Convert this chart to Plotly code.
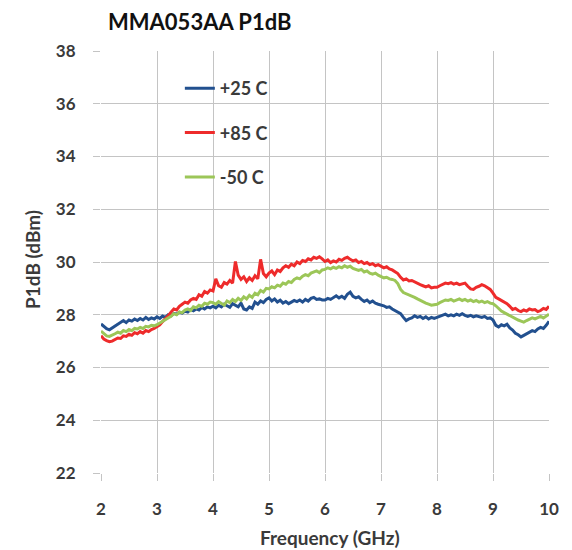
import numpy as np
import plotly.graph_objects as go

# Frequency sweep grid (GHz), 0.05 GHz steps from 2 to 10
freq = np.round(np.arange(2.0, 10.0001, 0.05), 2)

p25 = [
    27.65, 27.55, 27.47, 27.43, 27.50, 27.58, 27.62, 27.72, 27.78, 27.70, 27.80, 27.76, 27.84, 27.78, 27.86, 27.80, 27.90, 27.82, 27.88, 27.84,
    27.92, 27.86, 27.95, 27.90, 28.00, 27.96, 28.05, 28.02, 28.10, 28.06, 28.14, 28.10, 28.20, 28.15, 28.22, 28.18, 28.28, 28.22, 28.30, 28.26,
    28.32, 28.26, 28.36, 28.30, 28.40, 28.34, 28.28, 28.42, 28.36, 28.30, 28.44, 28.22, 28.18, 28.30, 28.24, 28.48, 28.40, 28.52, 28.46, 28.58,
    28.64, 28.52, 28.60, 28.48, 28.55, 28.44, 28.50, 28.42, 28.48, 28.54, 28.50, 28.56, 28.48, 28.58, 28.52, 28.62, 28.66, 28.58, 28.60, 28.56,
    28.56, 28.62, 28.58, 28.66, 28.72, 28.64, 28.70, 28.62, 28.78, 28.86, 28.70, 28.64, 28.68, 28.58, 28.50, 28.56, 28.46, 28.52, 28.44, 28.40,
    28.38, 28.34, 28.28, 28.30, 28.22, 28.16, 28.10, 28.04, 27.90, 27.78, 27.84, 27.88, 27.96, 27.90, 27.94, 27.86, 27.92, 27.84, 27.90, 27.86,
    27.90, 27.94, 27.98, 28.02, 27.96, 28.00, 27.96, 28.02, 27.98, 28.04, 27.98, 27.94, 27.98, 27.92, 27.96, 27.94, 27.90, 27.94, 27.86, 27.88,
    27.80, 27.60, 27.54, 27.62, 27.58, 27.64, 27.50, 27.42, 27.30, 27.24, 27.16, 27.22, 27.28, 27.34, 27.40, 27.36, 27.46, 27.52, 27.48, 27.60,
    27.75,
]

p85 = [
    27.20, 27.08, 27.02, 26.98, 27.00, 27.06, 27.12, 27.10, 27.20, 27.18, 27.26, 27.22, 27.32, 27.28, 27.36, 27.30, 27.40, 27.36, 27.44, 27.48,
    27.56, 27.62, 27.74, 27.84, 27.96, 28.10, 28.22, 28.18, 28.32, 28.40, 28.48, 28.44, 28.56, 28.62, 28.58, 28.76, 28.70, 28.88, 28.82, 28.94,
    28.90, 29.36, 29.10, 29.04, 29.22, 29.16, 29.30, 29.20, 30.02, 29.50, 29.34, 29.44, 29.26, 29.40, 29.30, 29.48, 29.36, 30.10, 29.56, 29.44,
    29.58, 29.66, 29.52, 29.70, 29.64, 29.78, 29.86, 29.80, 29.92, 29.86, 30.00, 29.94, 30.06, 30.02, 30.12, 30.08, 30.18, 30.14, 30.20, 30.12,
    30.02, 30.08, 29.98, 30.04, 30.00, 30.10, 30.06, 30.14, 30.18, 30.10, 30.04, 30.08, 29.98, 30.02, 29.94, 29.98, 29.90, 29.94, 29.86, 29.90,
    29.84, 29.78, 29.82, 29.74, 29.70, 29.64, 29.56, 29.42, 29.32, 29.36, 29.28, 29.30, 29.24, 29.20, 29.14, 29.10, 29.06, 29.10, 29.02, 29.04,
    29.04, 29.10, 29.16, 29.20, 29.18, 29.22, 29.16, 29.20, 29.14, 29.18, 29.20, 29.08, 28.98, 28.96, 29.04, 29.08, 29.14, 29.10, 29.02, 28.96,
    28.82, 28.66, 28.60, 28.54, 28.48, 28.42, 28.32, 28.20, 28.24, 28.16, 28.12, 28.18, 28.14, 28.22, 28.18, 28.20, 28.12, 28.16, 28.24, 28.20,
    28.32,
]

m50 = [
    27.38, 27.28, 27.20, 27.18, 27.22, 27.28, 27.34, 27.30, 27.40, 27.36, 27.44, 27.40, 27.48, 27.46, 27.52, 27.48, 27.56, 27.54, 27.60, 27.58,
    27.62, 27.68, 27.74, 27.80, 27.88, 27.94, 28.04, 28.00, 28.10, 28.08, 28.18, 28.22, 28.16, 28.30, 28.26, 28.36, 28.32, 28.44, 28.40, 28.48,
    28.46, 28.40, 28.50, 28.44, 28.36, 28.52, 28.46, 28.58, 28.50, 28.62, 28.54, 28.68, 28.60, 28.74, 28.66, 28.82, 28.76, 28.92, 28.86, 29.00,
    28.98, 29.06, 29.02, 29.12, 29.08, 29.20, 29.16, 29.26, 29.22, 29.34, 29.40, 29.36, 29.46, 29.52, 29.48, 29.58, 29.62, 29.66, 29.60, 29.70,
    29.72, 29.78, 29.74, 29.80, 29.76, 29.82, 29.78, 29.86, 29.80, 29.84, 29.76, 29.72, 29.68, 29.72, 29.62, 29.66, 29.58, 29.54, 29.58, 29.50,
    29.46, 29.40, 29.42, 29.36, 29.34, 29.30, 29.18, 28.96, 28.84, 28.80, 28.74, 28.70, 28.66, 28.60, 28.54, 28.50, 28.44, 28.40, 28.36, 28.38,
    28.40, 28.46, 28.52, 28.56, 28.54, 28.58, 28.52, 28.56, 28.60, 28.54, 28.58, 28.52, 28.56, 28.50, 28.54, 28.48, 28.52, 28.46, 28.50, 28.44,
    28.42, 28.34, 28.22, 28.14, 28.08, 28.02, 27.96, 27.90, 27.86, 27.80, 27.76, 27.72, 27.78, 27.82, 27.88, 27.84, 27.90, 27.94, 27.88, 27.96,
    28.02,
]

series_names = ["+25 C", "+85 C", "-50 C"]
series_colors = ["#22508f", "#ee2b2b", "#9cc658"]
x_ticks = [2, 3, 4, 5, 6, 7, 8, 9, 10]
y_ticks = [22, 24, 26, 28, 30, 32, 34, 36, 38]

FONT = "Lato"
TXT = "#3a3a3a"

# plot area in page pixels: x 101..549, y 51..473 (page body has 8px margin)
PL, PT, PW, PH = 101, 51, 448, 422


def px(x):
    return (x - PL) / PW


def py(y):
    return (PT + PH - y) / PH


fig = go.Figure()
for name, vals, col in zip(series_names, [p25, p85, m50], series_colors):
    fig.add_trace(go.Scatter(
        x=freq, y=vals, mode="lines", name=name, legendgroup=name,
        line=dict(color=col, width=3),
    ))

fig.update_layout(
    width=564, height=542,
    margin=dict(l=93, r=23, t=43, b=77),
    paper_bgcolor="white", plot_bgcolor="white",
    font=dict(family=FONT, color=TXT),
    showlegend=True,
    legend=dict(
        x=0.176, y=0.955, xanchor="left", yanchor="top",
        bgcolor="rgba(0,0,0,0)",
        font=dict(family=FONT, size=18, color=TXT, weight="bold"),
        tracegroupgap=18, itemwidth=30,
    ),
    annotations=[
        dict(text="<b>MMA053AA P1dB</b>", xref="paper", yref="paper",
             x=px(106), y=py(22), xanchor="left", yanchor="middle",
             showarrow=False, font=dict(family=FONT, size=22, color="#111111")),
        dict(text="<b>P1dB (dBm)</b>", xref="paper", yref="paper",
             x=px(33), y=py(260), xanchor="center", yanchor="middle",
             textangle=-90, showarrow=False, font=dict(family=FONT, size=19, color=TXT)),
        dict(text="<b>Frequency (GHz)</b>", xref="paper", yref="paper",
             x=px(330), y=py(537), xanchor="center", yanchor="middle",
             showarrow=False, font=dict(family=FONT, size=19, color=TXT)),
    ],
)

fig.update_xaxes(
    range=[2, 10], tickvals=x_ticks, ticktext=[str(v) for v in x_ticks],
    showgrid=True, gridcolor="#c4c4c4", gridwidth=1,
    ticks="outside", ticklen=7, tickcolor="#c4c4c4", tickwidth=1,
    showline=False, zeroline=False, ticklabelstandoff=14,
    tickfont=dict(family=FONT, size=17, color=TXT, weight="bold"),
)
fig.update_yaxes(
    range=[22, 38], tickvals=y_ticks, ticktext=[str(v) for v in y_ticks],
    showgrid=True, gridcolor="#c4c4c4", gridwidth=1,
    ticks="outside", ticklen=7, tickcolor="#c4c4c4", tickwidth=1,
    showline=False, zeroline=False, ticklabelstandoff=14,
    tickfont=dict(family=FONT, size=17, color=TXT, weight="bold"),
)

fig.write_html("out.html")
